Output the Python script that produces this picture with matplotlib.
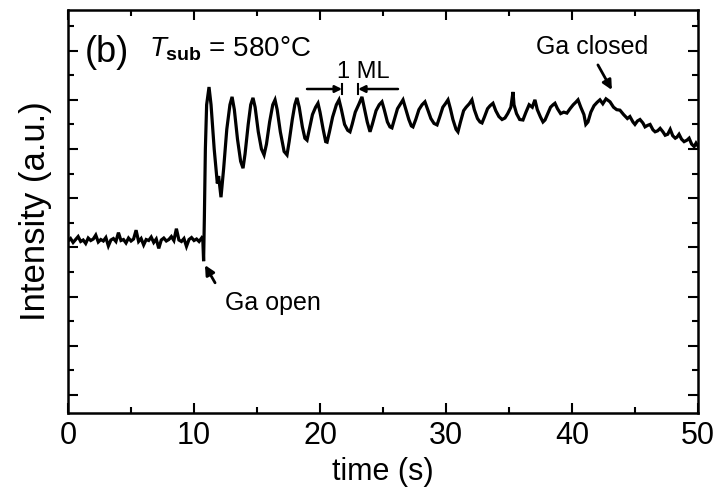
import matplotlib
matplotlib.use("Agg")
import matplotlib.pyplot as plt
from matplotlib.ticker import MultipleLocator, NullFormatter

plt.rcParams['font.family'] = ['Liberation Sans', 'DejaVu Sans']
plt.rcParams['mathtext.fontset'] = 'custom'
plt.rcParams['mathtext.rm'] = 'Liberation Sans'
plt.rcParams['mathtext.it'] = 'Liberation Sans:italic'
plt.rcParams['mathtext.bf'] = 'Liberation Sans:bold'

# RHEED intensity trace (time in s, intensity in a.u.)
time_s = [
    0.0, 0.2, 0.4, 0.6, 0.8, 1.0, 1.2, 1.4, 1.6, 1.8,
    2.0, 2.2, 2.4, 2.6, 2.8, 3.0, 3.2, 3.4, 3.6, 3.8,
    4.0, 4.2, 4.4, 4.6, 4.8, 5.0, 5.2, 5.4, 5.6, 5.8,
    6.0, 6.2, 6.4, 6.6, 6.8, 7.0, 7.2, 7.4, 7.6, 7.8,
    8.0, 8.2, 8.4, 8.6, 8.8, 9.0, 9.2, 9.4, 9.6, 9.8,
    10.0, 10.2, 10.4, 10.6,
    10.70, 10.76, 10.82, 10.90, 11.0, 11.19, 11.35, 11.6, 11.85, 11.95,
    12.14, 12.35, 12.6, 12.85, 13.02, 13.2, 13.45, 13.7, 13.89, 14.05,
    14.3, 14.5, 14.68, 14.85, 15.1, 15.35, 15.56, 15.75, 16.0, 16.25,
    16.43, 16.6, 16.85, 17.15, 17.38, 17.55, 17.8, 18.0, 18.17, 18.35,
    18.6, 18.8, 18.97, 19.15, 19.4, 19.65, 19.84, 20.0, 20.25, 20.45,
    20.56, 20.75, 21.0, 21.3, 21.51, 21.7, 21.95, 22.2, 22.38, 22.55,
    22.8, 23.1, 23.33, 23.5, 23.75, 23.97, 24.15, 24.45, 24.7, 24.92,
    25.1, 25.35, 25.55, 25.71, 25.9, 26.15, 26.4, 26.59, 26.8, 27.05,
    27.25, 27.38, 27.6, 27.85, 28.1, 28.33, 28.55, 28.8, 29.05, 29.29,
    29.5, 29.75, 29.95, 30.16, 30.35, 30.55, 30.8, 30.95, 31.15, 31.4,
    31.6, 31.85, 32.06, 32.25, 32.5, 32.7, 32.86, 33.05, 33.3, 33.5,
    33.73, 33.95, 34.2, 34.45, 34.68, 34.9, 35.15, 35.32, 35.4, 35.6,
    35.85, 36.11, 36.35, 36.6, 36.85, 37.06, 37.25, 37.5, 37.7, 37.86,
    38.05, 38.3, 38.5, 38.65, 38.85, 39.1, 39.35, 39.6, 39.85, 40.1,
    40.3, 40.48, 40.7, 40.95, 41.1, 41.27, 41.5, 41.75, 42.0, 42.22,
    42.45, 42.7, 43.02, 43.3, 43.55, 43.81, 44.1, 44.4, 44.6, 44.84,
    45.0, 45.2, 45.4, 45.63, 45.8, 46.0, 46.2, 46.43, 46.6, 46.8,
    47.0, 47.22, 47.4, 47.6, 47.8, 48.0, 48.2, 48.33, 48.5, 48.7,
    48.9, 49.13, 49.3, 49.5, 49.7, 49.85, 50.0,
]
intensity = [
    3.13, 3.18, 3.10, 3.16, 3.22, 3.12, 3.15, 3.08, 3.19, 3.14,
    3.17, 3.25, 3.11, 3.16, 3.13, 3.20, 3.03, 3.15, 3.18, 3.12,
    3.30, 3.14, 3.16, 3.09, 3.19, 3.13, 3.17, 3.35, 3.12, 3.18,
    3.05, 3.16, 3.14, 3.21, 3.10, 3.17, 2.98, 3.15, 3.19, 3.13,
    3.16, 3.22, 3.14, 3.38, 3.15, 3.12, 3.18, 3.02, 3.16, 3.20,
    3.14, 3.17, 3.12, 3.19,
    3.14, 2.72, 3.60, 5.00, 5.90, 6.26, 5.90, 5.00, 4.30, 4.45,
    4.02, 4.60, 5.40, 5.90, 6.06, 5.80, 5.20, 4.75, 4.61, 4.90,
    5.50, 5.90, 6.04, 5.85, 5.35, 5.00, 4.88, 5.10, 5.55, 5.90,
    6.00, 5.80, 5.35, 4.95, 4.88, 5.15, 5.60, 5.90, 6.04, 5.85,
    5.45, 5.22, 5.18, 5.40, 5.70, 5.85, 5.93, 5.75, 5.40, 5.15,
    5.14, 5.35, 5.65, 5.90, 6.00, 5.80, 5.50, 5.38, 5.35, 5.50,
    5.75, 5.92, 6.06, 5.85, 5.55, 5.35, 5.50, 5.78, 5.90, 5.96,
    5.80, 5.55, 5.45, 5.43, 5.60, 5.82, 5.92, 6.00, 5.82, 5.60,
    5.47, 5.45, 5.60, 5.80, 5.90, 5.96, 5.80, 5.62, 5.52, 5.49,
    5.65, 5.85, 5.92, 6.00, 5.82, 5.60, 5.40, 5.35, 5.55, 5.78,
    5.85, 5.92, 6.00, 5.80, 5.62, 5.55, 5.53, 5.65, 5.82, 5.88,
    5.93, 5.78, 5.66, 5.60, 5.63, 5.72, 5.85, 6.16, 5.90, 5.72,
    5.60, 5.59, 5.75, 5.90, 5.85, 6.00, 5.80, 5.65, 5.55, 5.59,
    5.70, 5.85, 5.90, 5.93, 5.82, 5.72, 5.75, 5.73, 5.82, 5.90,
    5.95, 6.00, 5.85, 5.70, 5.50, 5.55, 5.75, 5.88, 5.95, 6.00,
    5.92, 6.02, 5.96, 5.85, 5.80, 5.79, 5.70, 5.62, 5.66, 5.55,
    5.50, 5.57, 5.60, 5.53, 5.45, 5.48, 5.50, 5.39, 5.35, 5.37,
    5.42, 5.35, 5.28, 5.30, 5.40, 5.27, 5.22, 5.24, 5.30, 5.20,
    5.15, 5.18, 5.22, 5.10, 5.05, 5.12, 5.06,
]

x_ticks = [0, 10, 20, 30, 40, 50]

fig = plt.figure(figsize=(7.24, 5.03), dpi=100)
ax = fig.add_axes([0.094, 0.179, 0.870, 0.801])

ax.plot(time_s, intensity, color='black', lw=2.3, solid_joinstyle='miter')

ax.set_xlim(0, 50)
ax.set_ylim(-0.366, 7.825)
ax.set_xticks(x_ticks)
ax.xaxis.set_minor_locator(MultipleLocator(5))
ax.yaxis.set_major_locator(MultipleLocator(1))
ax.yaxis.set_minor_locator(MultipleLocator(0.5))
ax.yaxis.set_major_formatter(NullFormatter())
ax.tick_params(which='both', direction='in', top=True, right=True, width=1.5)
ax.tick_params(which='major', length=7)
ax.tick_params(which='minor', length=4)
ax.tick_params(axis='x', labelsize=22, pad=6)
for s in ax.spines.values():
    s.set_linewidth(1.8)

ax.set_xlabel('time (s)', fontsize=22, labelpad=4)
ax.set_ylabel('Intensity (a.u.)', fontsize=25, labelpad=8)

ax.text(0.027, 0.895, '(b)', transform=ax.transAxes, fontsize=26, va='center')
ax.text(0.128, 0.905, r'$T_{\mathbf{sub}}$ = 580°C', transform=ax.transAxes,
        fontsize=20, va='center')

# annotations
ax.text(41.6, 7.08, 'Ga closed', fontsize=18, ha='center', va='center')
ax.annotate('', xy=(43.17, 6.20), xytext=(42.06, 6.71),
            arrowprops=dict(arrowstyle='-|>', color='black', lw=2.0,
                            shrinkA=0, shrinkB=0, mutation_scale=14))
ax.text(16.27, 1.87, 'Ga open', fontsize=18, ha='center', va='center')
ax.annotate('', xy=(10.87, 2.64), xytext=(11.67, 2.28),
            arrowprops=dict(arrowstyle='-|>', color='black', lw=2.0,
                            shrinkA=0, shrinkB=0, mutation_scale=14))

ax.text(23.41, 6.57, '1 ML', fontsize=17, ha='center', va='center')
ax.annotate('', xy=(21.75, 6.22), xytext=(18.97, 6.22),
            arrowprops=dict(arrowstyle='-|>', color='black', lw=1.8,
                            shrinkA=0, shrinkB=0, mutation_scale=10))
ax.annotate('', xy=(23.02, 6.22), xytext=(26.19, 6.22),
            arrowprops=dict(arrowstyle='-|>', color='black', lw=1.8,
                            shrinkA=0, shrinkB=0, mutation_scale=10))
ax.plot([21.75, 21.75], [6.12, 6.32], color='black', lw=1.5)
ax.plot([23.02, 23.02], [6.12, 6.32], color='black', lw=1.5)

fig.savefig('out.png', dpi=100)
